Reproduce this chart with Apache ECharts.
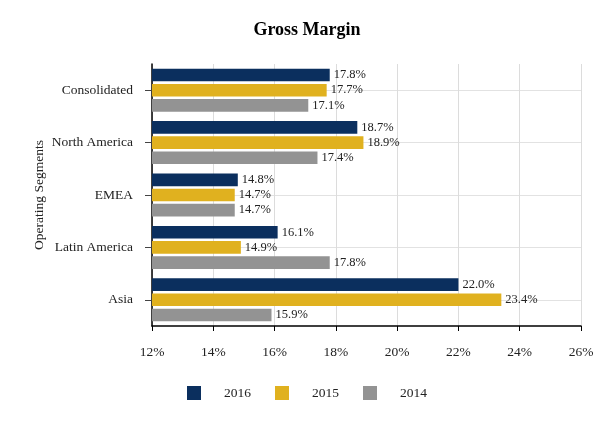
<!DOCTYPE html>
<html>
<head>
<meta charset="utf-8">
<script src="https://cdn.jsdelivr.net/npm/echarts@6/dist/echarts.min.js"></script>
<style>
  html, body { margin: 0; padding: 0; background: #fff; }
  #main { width: 614px; height: 429px; }
</style>
</head>
<body>
<div id="main"></div>
<script>
var segments = ['Consolidated', 'North America', 'EMEA', 'Latin America', 'Asia'];
var years = ['2016', '2015', '2014'];
var margin2016 = [17.8, 18.7, 14.8, 16.1, 22.0];
var margin2015 = [17.7, 18.9, 14.7, 14.9, 23.4];
var margin2014 = [17.1, 17.4, 14.7, 17.8, 15.9];
var colors = ['#0b2f5e', '#e0b11f', '#939393'];

var font = 'Liberation Serif, Times New Roman, serif';
var myChart = echarts.init(document.getElementById('main'));

function barSeries(name, data, color) {
    return {
        name: name,
        type: 'bar',
        data: data,
        barGap: '20%',
        barCategoryGap: '18%',
        itemStyle: { color: color },
        label: {
            show: true,
            position: 'right',
            distance: 4,
            color: '#222',
            fontFamily: font,
            fontSize: 12.5,
            formatter: function (p) { return p.value.toFixed(1) + '%'; }
        }
    };
}

var option = {
    animation: false,
    textStyle: { fontFamily: font },
    title: {
        text: 'Gross Margin',
        left: 'center',
        top: 16,
        textStyle: { fontFamily: font, fontSize: 18, fontWeight: 'bold', color: '#000' }
    },
    legend: {
        data: years,
        bottom: 24,
        left: 'center',
        icon: 'rect',
        itemWidth: 14,
        itemHeight: 14,
        itemGap: 24,
        textStyle: { fontFamily: font, fontSize: 13.5, color: '#222', padding: [0, 0, 0, 18] }
    },
    grid: { left: 152, right: 33, top: 64, bottom: 103 },
    xAxis: {
        type: 'value',
        min: 12,
        max: 26,
        interval: 2,
        axisLine: { show: true, lineStyle: { color: '#000', width: 1.5 } },
        axisTick: { show: true, length: 5, lineStyle: { color: '#000' } },
        axisLabel: {
            margin: 19,
            color: '#222',
            fontFamily: font,
            fontSize: 13.5,
            formatter: '{value}%'
        },
        splitLine: { show: true, lineStyle: { color: '#dcdcdc' } }
    },
    yAxis: {
        type: 'category',
        data: segments,
        inverse: true,
        name: 'Operating Segments',
        nameLocation: 'middle',
        nameGap: 106,
        nameMoveOverlap: false,
        nameTextStyle: { fontFamily: font, fontSize: 13.5, color: '#222' },
        axisLine: { show: true, lineStyle: { color: '#000', width: 1.5 } },
        axisTick: { show: true, alignWithLabel: true, length: 7, lineStyle: { color: '#444' } },
        axisLabel: { margin: 19, color: '#222', fontFamily: font, fontSize: 13.5 },
        splitLine: { show: true, alignWithLabel: true, lineStyle: { color: '#e2e2e2' } }
    },
    series: [
        barSeries(years[0], margin2016, colors[0]),
        barSeries(years[1], margin2015, colors[1]),
        barSeries(years[2], margin2014, colors[2])
    ]
};
option && myChart.setOption(option);
</script>
</body>
</html>
